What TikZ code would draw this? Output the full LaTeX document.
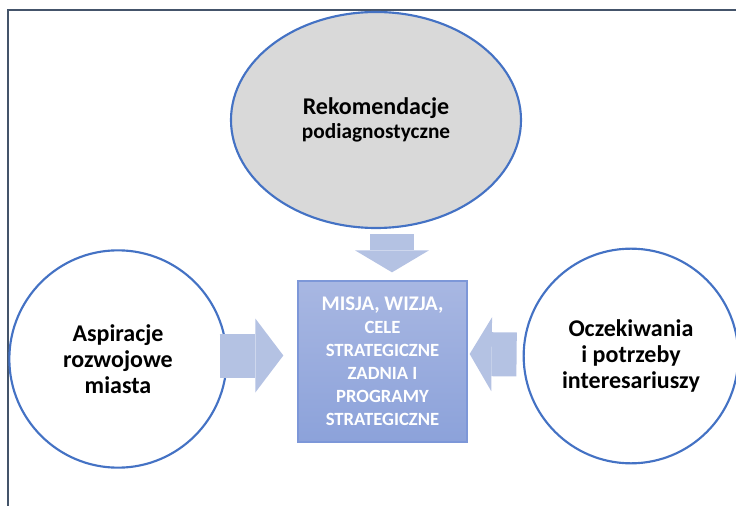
\documentclass[tikz,border=0pt]{standalone}
\usepackage{fontspec}
\setmainfont{Carlito}
\usepackage{xcolor}
\usepackage{tikz}
\usetikzlibrary{arrows.meta,shapes.geometric,positioning,calc}

\definecolor{ringblue}{HTML}{4472C4}
\definecolor{arrowblue}{HTML}{B4C2E3}
\definecolor{boxtop}{HTML}{A8B7E2}
\definecolor{boxbot}{HTML}{8CA2DA}
\definecolor{boxedge}{HTML}{7D97D8}
\definecolor{framecol}{HTML}{44546A}

\begin{document}
\begin{tikzpicture}[x=0.75pt, y=-0.75pt,
		ring/.style={draw=ringblue, line width=1.6pt, align=center, font=\fontsize{18}{19.5}\selectfont\bfseries},
		blockarrow/.style={draw=arrowblue, line width=33pt, -{Triangle[length=#1, width=55.5pt, line width=0pt]}},
		blockarrow/.default=16.5pt]
		\useasboundingbox (0,0) rectangle (736,506);
		\draw[framecol, line width=1.5pt] (8,506) -- (8,10) -- (736,10);

		\node[ring, ellipse, fill=gray!30, minimum width=217.5pt, minimum height=162pt] (rek) at (376,120) {
			Rekomendacje\\[-1pt]
			{\fontsize{16}{18}\selectfont podiagnostyczne}
		};
		\node[ring, circle, fill=white, minimum size=163pt] (asp) at (118,359) {Aspiracje\\rozwojowe\\miasta};
		\node[ring, circle, fill=white, minimum size=161pt] (ocz) at (631,356) {Oczekiwania\\i potrzeby\\interesariuszy};

		\node[draw=boxedge, line width=1pt, top color=boxtop, bottom color=boxbot, minimum width=126.75pt, minimum height=120.75pt,
			text=white, align=center, font=\fontsize{14}{17.25}\selectfont\bfseries] (box) at (382.5,361.5) {
			{\fontsize{15.6}{17.25}\selectfont MISJA, WIZJA,}\\
			CELE\\
			STRATEGICZNE\\
			ZADNIA I\\
			PROGRAMY\\
			STRATEGICZNE
		};

		\draw[blockarrow] ($(rek.south)+(16,5)$) -- ($(box.north)+(9.5,-8)$);
		\draw[blockarrow=21pt] ($(asp.east)+(-8,-3.5)$) -- ($(box.west)+(-14,-6)$);
		\draw[blockarrow] ($(ocz.west)+(-6,-1.5)$) -- ($(box.east)+(2,-7.5)$);
	\end{tikzpicture}
\end{document}
